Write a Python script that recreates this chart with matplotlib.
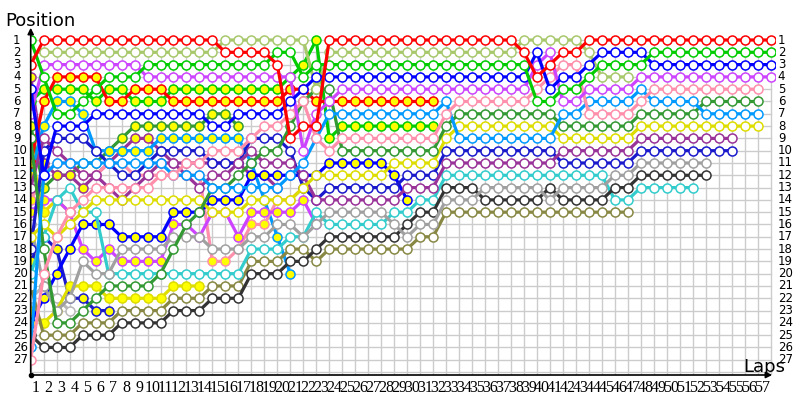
import matplotlib
matplotlib.use("Agg")
import matplotlib.pyplot as plt

# Lap chart data, run-length coded: (position, number of laps), starting at lap 0 (grid)
RED_A = [(3, 1), (1, 14), (2, 4), (3, 1), (9, 1), (8, 2), (1, 15), (2, 1), (4, 1), (3, 1), (2, 2), (1, 15)]
LOG = [(2, 15), (1, 7), (5, 1), (2, 15), (1, 5), (2, 1), (4, 3)]
GREEN_A = [(1, 1), (4, 1), (7, 2), (6, 1), (5, 1), (4, 3), (3, 10), (2, 2), (4, 1), (3, 1), (3, 16),
           (6, 2), (5, 2), (4, 1), (3, 4), (2, 10)]
GREEN_B = [(6, 1), (5, 4), (6, 1), (5, 2), (6, 3), (5, 9), (4, 1), (3, 1), (1, 1), (9, 1), (8, 8)]
RED_B = [(11, 1), (6, 1), (4, 4), (6, 2), (5, 3), (6, 9), (5, 2), (6, 1), (6, 9)]
VIO_A = [(7, 1), (3, 8), (4, 11), (4, 1), (10, 1), (7, 1), (6, 1), (5, 15), (3, 1), (2, 1), (6, 2), (5, 4), (4, 11)]
VIO_B = [(15, 1), (14, 2), (15, 1), (18, 1), (19, 1), (18, 1), (19, 4), (16, 2), (17, 1), (15, 2), (17, 1),
         (15, 4), (14, 1), (16, 1)]
BLUE_A = [(5, 1), (12, 1), (8, 3), (7, 9), (8, 2), (7, 4), (6, 1), (5, 1), (4, 1), (4, 16), (2, 1), (5, 1),
          (4, 2), (3, 1), (2, 4), (3, 10)]
BLUE_B = [(24, 1), (22, 1), (20, 1), (18, 1), (16, 3), (17, 4), (15, 3), (14, 3), (12, 6), (11, 5), (12, 1), (14, 1)]
DB_A = [(18, 1), (10, 1), (9, 3), (10, 1), (11, 1), (12, 2), (11, 1), (10, 4), (11, 3), (9, 3), (10, 1), (13, 1),
        (14, 1), (13, 6), (12, 3), (10, 9), (11, 6), (10, 8)]
DB_B = [(19, 1), (17, 1), (18, 1), (22, 2), (23, 2)]
LB_A = [(26, 1), (12, 1), (11, 8), (11, 1), (12, 3), (13, 6), (12, 1), (11, 1), (9, 1), (7, 9), (6, 1), (9, 8),
        (7, 2), (6, 4), (5, 1), (6, 4), (7, 5)]
LB_B = [(12, 1), (8, 1), (6, 2), (7, 1), (10, 5), (9, 7), (11, 1), (14, 1), (17, 1), (20, 1)]
PINK_A = [(27, 1), (20, 1), (17, 1), (15, 1), (14, 1), (13, 5), (12, 2), (11, 2), (10, 3), (9, 1), (8, 2), (7, 1),
          (6, 1), (9, 1), (10, 1), (9, 8), (7, 1), (6, 6), (5, 1), (4, 1), (3, 2), (7, 4), (6, 1), (5, 9)]
PINK_B = [(14, 1), (12, 1), (11, 2), (12, 2), (11, 2), (12, 6), (19, 2), (18, 1), (16, 2), (14, 2), (13, 1)]
DG_A = [(9, 1), (18, 1), (24, 2), (23, 1), (22, 1), (21, 4), (20, 1), (18, 1), (16, 1), (15, 1), (13, 2), (12, 1),
        (11, 1), (10, 2), (8, 1), (6, 1), (5, 2), (10, 8), (8, 1), (7, 8), (8, 6), (7, 5), (6, 5)]
DG_B = [(8, 1), (13, 1), (12, 2), (11, 2), (10, 1), (9, 1), (8, 6), (7, 2), (8, 1)]
YEL_A = [(17, 1), (16, 1), (17, 1), (16, 1), (15, 1), (14, 9), (15, 3), (14, 4), (13, 1), (12, 6), (11, 4), (9, 1),
         (8, 8), (9, 6), (8, 10)]
YEL_B = [(23, 1), (24, 1), (23, 1), (21, 3), (22, 5), (21, 3)]
YEL_C = [(10, 1), (15, 1), (14, 1), (15, 1)]
PUR_A = [(13, 1), (9, 1), (10, 1), (11, 1), (12, 2), (13, 1), (14, 1), (13, 1), (12, 1), (11, 2), (12, 1), (13, 1),
         (12, 2), (11, 1), (10, 1), (11, 3), (12, 1), (14, 7), (13, 3), (11, 9), (10, 6), (9, 8)]
PUR_B = [(4, 1), (11, 1), (12, 2), (13, 1), (12, 1), (11, 1), (10, 1), (9, 2), (10, 1), (11, 6), (12, 2), (13, 1)]
GRAY_A = [(16, 1), (21, 1), (23, 1), (22, 1), (19, 1), (20, 2), (18, 4), (17, 3), (18, 3), (17, 2), (16, 2), (17, 1),
          (16, 1), (15, 5), (16, 1), (17, 1), (16, 2), (14, 3), (13, 5), (14, 1), (13, 4), (12, 2), (11, 6)]
GRAY_B = [(22, 1), (21, 1), (22, 1), (23, 1)]
BLACK = [(25, 1), (26, 3), (25, 3), (24, 4), (23, 3), (22, 3), (20, 3), (19, 2), (18, 1), (17, 6), (16, 1), (15, 2),
         (13, 3), (14, 5), (13, 1), (14, 4), (13, 2), (12, 6)]
CYAN = [(20, 1), (17, 1), (14, 1), (13, 1), (15, 2), (20, 11), (18, 3), (17, 2), (15, 1), (16, 5), (15, 2), (14, 2),
        (12, 13), (14, 2), (13, 5)]
OLIVE = [(21, 1), (25, 3), (24, 3), (23, 4), (22, 3), (21, 3), (19, 3), (18, 2), (19, 1), (18, 7), (17, 2), (15, 15)]

N_LAPS = 57
N_POS = 27

# styles: (line colour, marker face)
WHITE, YELLOW = '#ffffff', '#ffff00'
DRIVERS = [
    (YEL_C, '#e6d800', YELLOW), (GRAY_B, '#b8b8b8', WHITE), (DB_B, '#1a1acc', YELLOW),
    (YEL_B, '#dddd00', YELLOW), (DG_B, '#339933', YELLOW), (PUR_B, '#993399', YELLOW),
    (LB_B, '#0099ff', YELLOW), (PINK_B, '#ff8fab', YELLOW), (VIO_B, '#cc44ff', YELLOW),
    (BLUE_B, '#0000ff', YELLOW), (GREEN_B, '#00cc00', YELLOW), (RED_B, '#ff0000', YELLOW),
    (OLIVE, '#888844', WHITE), (CYAN, '#33cccc', WHITE), (BLACK, '#333333', WHITE),
    (GRAY_A, '#a0a0a0', WHITE), (DB_A, '#1a1acc', WHITE), (PUR_A, '#993399', WHITE),
    (YEL_A, '#dddd00', WHITE), (DG_A, '#339933', WHITE), (LB_A, '#0099ff', WHITE),
    (PINK_A, '#ff8fab', WHITE), (LOG, '#a8c86c', WHITE), (VIO_A, '#cc44ff', WHITE),
    (BLUE_A, '#0000ff', WHITE), (GREEN_A, '#00cc00', WHITE), (RED_A, '#ff0000', WHITE),
]


def expand(runs):
    out = []
    for pos, n in runs:
        out += [pos] * n
    return out


fig = plt.figure(figsize=(8, 4), dpi=100)
ax = fig.add_axes([30.7 / 800, 25 / 400, (775 - 30.7) / 800, 350 / 400])
x_max = (775 - 30.7) / 12.98
y_bot, y_top = 28.24, -0.22
ax.set_xlim(0, x_max)
ax.set_ylim(y_bot, y_top)
ax.axis('off')

# grid
for lap in range(N_LAPS + 1):
    ax.plot([lap, lap], [1, y_bot], color='#cccccc', lw=1, zorder=1)
for p in range(1, N_POS + 2):
    ax.plot([0, N_LAPS], [p, p], color='#cccccc', lw=1, zorder=1)

# drivers
for i, (runs, col, face) in enumerate(DRIVERS):
    ys = expand(runs)
    xs = list(range(len(ys)))
    ax.plot(xs, ys, color=col, lw=2.3, zorder=3 + i * 0.01, solid_capstyle='round')
    ax.plot(xs, ys, linestyle='none', marker='o', ms=6.5, mfc=face, mec=col, mew=1.1,
            zorder=3 + i * 0.01 + 0.005)

# axes with arrows
ax.annotate('', xy=(0, y_top), xytext=(0, y_bot),
            arrowprops=dict(arrowstyle='-|>', color='black', lw=1.2, mutation_scale=9),
            annotation_clip=False, zorder=5)
ax.annotate('', xy=(x_max, y_bot), xytext=(0, y_bot),
            arrowprops=dict(arrowstyle='-|>', color='black', lw=1.2, mutation_scale=9),
            annotation_clip=False, zorder=5)
ax.plot([0], [y_bot], marker='o', ms=3, color='black', clip_on=False, zorder=6)

# position labels, both sides
for p in range(1, N_POS + 1):
    ax.text(-1.36, p, str(p), ha='left', va='center', fontsize=8.5, family='DejaVu Sans')
    ax.text(57.56, p, str(p), ha='left', va='center', fontsize=8.5, family='DejaVu Sans')

# lap labels (they overlap in the original too)
for lap in range(1, N_LAPS + 1):
    ax.text(lap - 0.63, 29.3, str(lap), ha='center', va='center', fontsize=11.5,
            family='Liberation Serif', clip_on=False)

fig.text(5 / 800, 1 - 26 / 400, 'Position', fontsize=13, va='baseline', family='DejaVu Sans')
fig.text(743 / 800, 28 / 400, 'Laps', fontsize=13, va='baseline', family='DejaVu Sans')

fig.savefig('out.png', dpi=100, facecolor='white')
